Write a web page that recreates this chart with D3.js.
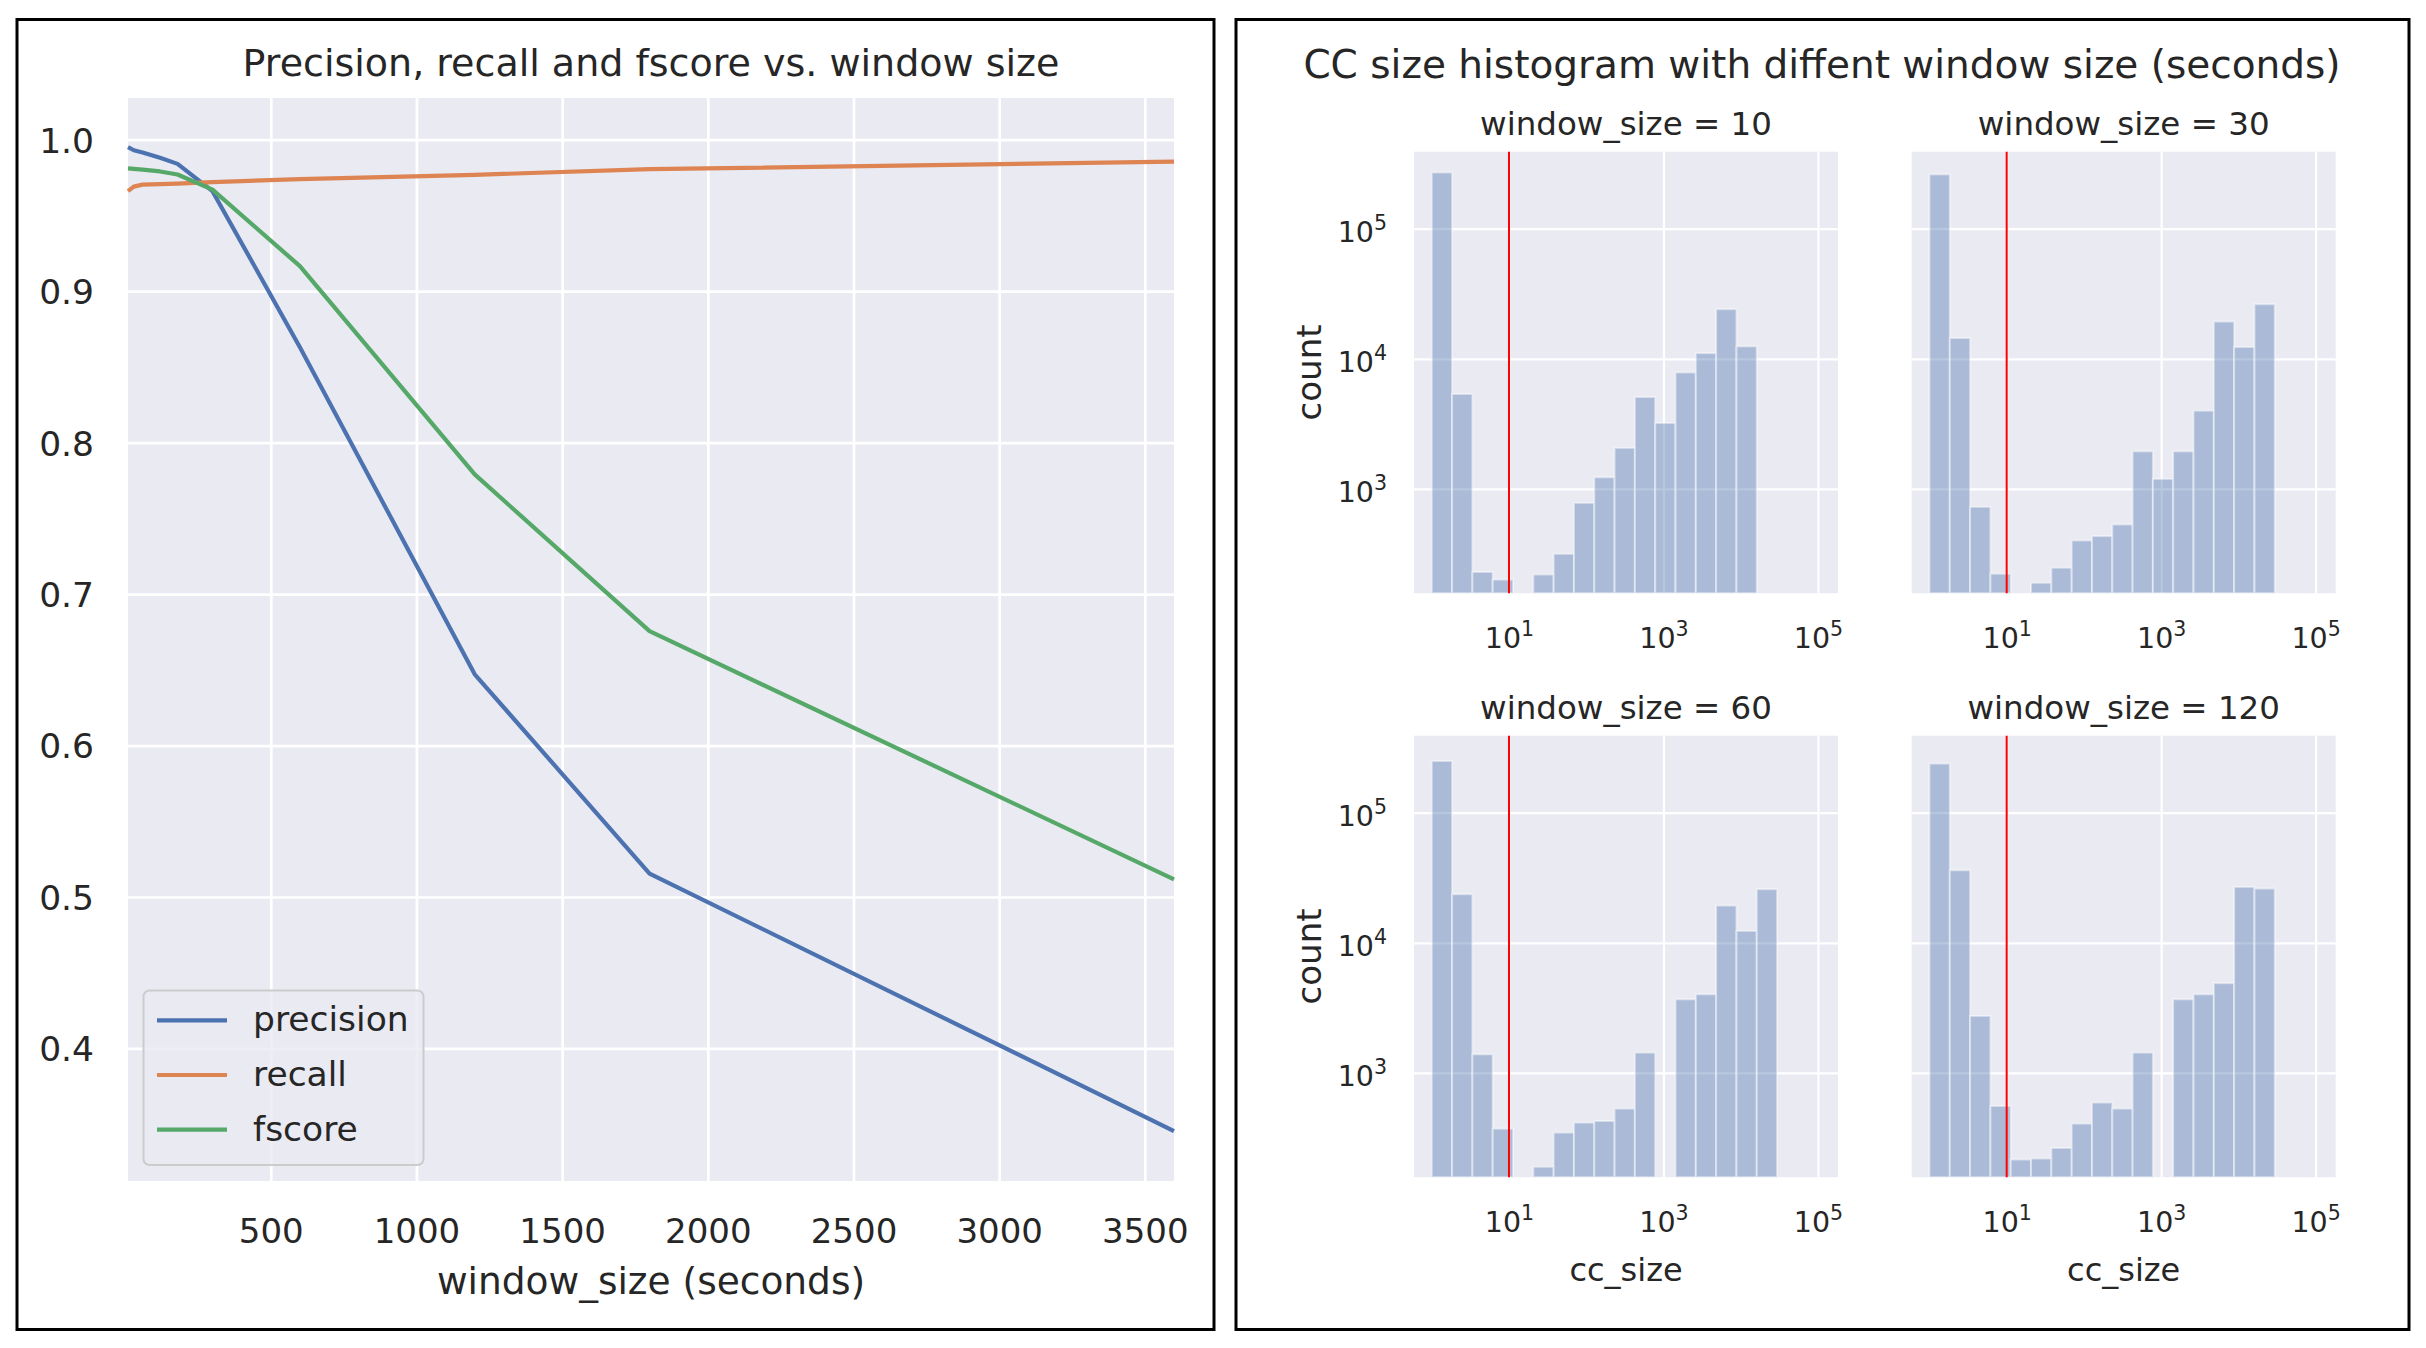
<!DOCTYPE html>
<html><head><meta charset="utf-8">
<script src="https://cdn.jsdelivr.net/npm/d3@7"></script>
<style>
html,body{margin:0;padding:0;background:#fff;}
svg{display:block;font-family:"DejaVu Sans",sans-serif;}
</style></head>
<body>
<svg id="chart" width="2426" height="1348"></svg>
<script>
// ---------- data: left chart ----------
const windowSizes = [10, 30, 60, 120, 180, 300, 600, 1200, 1800, 3600];
const precision   = [0.995, 0.993, 0.9915, 0.988, 0.984, 0.966, 0.863, 0.647, 0.5155, 0.3455];
const recall      = [0.966, 0.969, 0.9703, 0.9707, 0.971, 0.972, 0.974, 0.9768, 0.9805, 0.9855];
const fscore      = [0.981, 0.9807, 0.9802, 0.979, 0.977, 0.967, 0.9165, 0.779, 0.6755, 0.5117];
const seriesNames = ["precision", "recall", "fscore"];
const xTicks = [500, 1000, 1500, 2000, 2500, 3000, 3500];
const yTicks = [0.4, 0.5, 0.6, 0.7, 0.8, 0.9, 1.0];

// ---------- data: right histograms ----------
const binEdgeExp = [0, 0.263, 0.526, 0.789, 1.052, 1.315, 1.578, 1.841, 2.104, 2.367, 2.63,
                    2.893, 3.156, 3.419, 3.682, 3.945, 4.208, 4.471, 4.734, 4.997, 5.26];
const histWindows = [10, 30, 60, 120];
const counts10  = [270000, 5360, 230, 201, null, 220, 317, 781, 1228, 2065, 5080, 3210, 7850, 11040, 24050, 12450];
const counts30  = [261000, 14420, 728, 223, null, 190, 248, 402, 434, 533, 1944, 1194, 1944, 3990, 19300, 12300, 26240];
const counts60  = [249000, 23600, 1390, 373, null, 190, 348, 415, 427, 532, 1432, null, 3680, 4020, 19300, 12330, 25770];
const counts120 = [238000, 36060, 2740, 557, 216, 220, 265, 408, 592, 532, 1432, null, 3680, 4020, 4890, 26840, 26080];
const histCounts = [counts10, counts30, counts60, counts120];
const thresholdSize = 10;
const histXTickExps = [1, 3, 5];
const histYTickExps = [3, 4, 5];

// ---------- styling ----------
const TXT = "#262626", BG = "#eaeaf2";
const colors = {precision: "#4c72b0", recall: "#dd8452", fscore: "#55a868"};
const svg = d3.select("#chart");

// panel borders
svg.append("rect").attr("x", 17).attr("y", 19.5).attr("width", 1197).attr("height", 1310)
  .attr("fill", "none").attr("stroke", "#000").attr("stroke-width", 3);
svg.append("rect").attr("x", 1236).attr("y", 19.5).attr("width", 1173).attr("height", 1310)
  .attr("fill", "none").attr("stroke", "#000").attr("stroke-width", 3);

// ================= LEFT CHART =================
const L = {left: 128, right: 1174, top: 98, bottom: 1181};
const x = d3.scaleLinear().domain(d3.extent(windowSizes)).range([L.left, L.right]);
const y = d3.scaleLinear().domain([0.3125, 1.0275]).range([L.bottom, L.top]);

const gL = svg.append("g");
gL.append("rect").attr("x", L.left).attr("y", L.top).attr("width", L.right - L.left)
  .attr("height", L.bottom - L.top).attr("fill", BG);

// grid
const gxGrid = gL.append("g").attr("transform", `translate(0,${L.bottom})`)
  .call(d3.axisBottom(x).tickValues(xTicks).tickSize(-(L.bottom - L.top)).tickFormat(""));
const gyGrid = gL.append("g").attr("transform", `translate(${L.left},0)`)
  .call(d3.axisLeft(y).tickValues(yTicks).tickSize(-(L.right - L.left)).tickFormat(""));
[gxGrid, gyGrid].forEach(g => {
  g.select(".domain").remove();
  g.selectAll("line").attr("stroke", "#fff").attr("stroke-width", 2.7);
});

// tick labels
const gxAx = gL.append("g").attr("transform", `translate(0,${L.bottom})`)
  .call(d3.axisBottom(x).tickValues(xTicks).tickSize(0).tickFormat(d3.format("d")));
gxAx.select(".domain").remove();
gxAx.selectAll("text").attr("y", 62).attr("dy", null).attr("fill", TXT)
  .attr("font-size", 34).attr("font-family", "DejaVu Sans");
const gyAx = gL.append("g").attr("transform", `translate(${L.left},0)`)
  .call(d3.axisLeft(y).tickValues(yTicks).tickSize(0).tickFormat(d3.format(".1f")));
gyAx.select(".domain").remove();
gyAx.selectAll("text").attr("x", -34).attr("dy", "0.36em").attr("fill", TXT)
  .attr("font-size", 34.5).attr("font-family", "DejaVu Sans");

// lines
const seriesData = {precision, recall, fscore};
const line = d3.line().x((d, i) => x(windowSizes[i])).y(d => y(d));
seriesNames.forEach(name => {
  gL.append("path").datum(seriesData[name]).attr("d", line)
    .attr("fill", "none").attr("stroke", colors[name]).attr("stroke-width", 4.2)
    .attr("stroke-linejoin", "round").attr("stroke-linecap", "butt");
});

// titles
gL.append("text").attr("x", (L.left + L.right) / 2).attr("y", 75.5).attr("text-anchor", "middle")
  .attr("font-size", 38).attr("fill", TXT).text("Precision, recall and fscore vs. window size");
gL.append("text").attr("x", (L.left + L.right) / 2).attr("y", 1294).attr("text-anchor", "middle")
  .attr("font-size", 37.5).attr("fill", TXT).text("window_size (seconds)");

// legend
const leg = gL.append("g");
leg.append("rect").attr("x", 143.5).attr("y", 990.5).attr("width", 280).attr("height", 174.5)
  .attr("rx", 6).attr("fill", BG).attr("fill-opacity", 0.8).attr("stroke", "#cccccc").attr("stroke-width", 2);
seriesNames.forEach((name, i) => {
  const cy = 1020.4 + i * 54.6;
  leg.append("line").attr("x1", 157).attr("x2", 227).attr("y1", cy).attr("y2", cy)
    .attr("stroke", colors[name]).attr("stroke-width", 4.2);
  leg.append("text").attr("x", 253).attr("y", cy + 11).attr("font-size", 34.5).attr("fill", TXT).text(name);
});

// ================= RIGHT: HISTOGRAMS =================
svg.append("text").attr("x", 1822).attr("y", 78).attr("text-anchor", "middle")
  .attr("font-size", 39).attr("fill", TXT).text("CC size histogram with diffent window size (seconds)");

const PW = 424, PH = 441.5;
const panelPos = [[1414, 151.7], [1911.7, 151.7], [1414, 735.7], [1911.7, 735.7]];
const xs = d3.scaleLog().domain([Math.pow(10, -0.23), Math.pow(10, 5.26)]).range([0, PW]);
const ys = d3.scaleLog().domain([Math.pow(10, 2.199), Math.pow(10, 5.591)]).range([PH, 0]);

function supLabel(sel, exp, size) {
  sel.text(null);
  sel.append("tspan").text("10");
  sel.append("tspan").attr("font-size", size * 0.72).attr("dy", -size * 0.42).text(String(exp));
}

histWindows.forEach((ws, p) => {
  const [px, py] = panelPos[p];
  const col = p % 2, row = Math.floor(p / 2);
  const g = svg.append("g").attr("transform", `translate(${px},${py})`);
  g.append("rect").attr("width", PW).attr("height", PH).attr("fill", BG);

  const xv = histXTickExps.map(e => Math.pow(10, e));
  const yv = histYTickExps.map(e => Math.pow(10, e));
  const gx = g.append("g").attr("transform", `translate(0,${PH})`)
    .call(d3.axisBottom(xs).tickValues(xv).tickSize(-PH).tickFormat(""));
  const gy = g.append("g").call(d3.axisLeft(ys).tickValues(yv).tickSize(-PW).tickFormat(""));
  [gx, gy].forEach(a => {
    a.select(".domain").remove();
    a.selectAll("line").attr("stroke", "#fff").attr("stroke-width", 2.2);
  });

  // bars
  const bins = histCounts[p].map((c, k) => ({c, k})).filter(d => d.c != null);
  g.selectAll("rect.bar").data(bins).enter().append("rect").attr("class", "bar")
    .attr("x", d => xs(Math.pow(10, binEdgeExp[d.k])))
    .attr("width", d => xs(Math.pow(10, binEdgeExp[d.k + 1])) - xs(Math.pow(10, binEdgeExp[d.k])))
    .attr("y", d => ys(d.c))
    .attr("height", d => PH - ys(d.c))
    .attr("fill", "#4c72b0").attr("fill-opacity", 0.4)
    .attr("stroke", "#ffffff").attr("stroke-opacity", 0.45).attr("stroke-width", 2);

  // threshold line
  g.append("line").attr("x1", xs(thresholdSize)).attr("x2", xs(thresholdSize))
    .attr("y1", 0).attr("y2", PH).attr("stroke", "#ff0000").attr("stroke-width", 2);

  // x tick labels
  const gxl = g.append("g").attr("transform", `translate(0,${PH})`)
    .call(d3.axisBottom(xs).tickValues(xv).tickSize(0).tickFormat(""));
  gxl.select(".domain").remove();
  gxl.selectAll("text").attr("y", 55).attr("dy", null).attr("fill", TXT)
    .attr("font-size", 28.5).attr("font-family", "DejaVu Sans")
    .each(function(d) { supLabel(d3.select(this), Math.round(Math.log10(d)), 28.5); });

  // y tick labels on left column
  if (col === 0) {
    const gyl = g.append("g").call(d3.axisLeft(ys).tickValues(yv).tickSize(0).tickFormat(""));
    gyl.select(".domain").remove();
    gyl.selectAll("text").attr("x", -27).attr("dy", 13).attr("fill", TXT)
      .attr("font-size", 28.5).attr("font-family", "DejaVu Sans")
      .each(function(d) { supLabel(d3.select(this), Math.round(Math.log10(d)), 28.5); });
    g.append("text").attr("transform", `translate(-93,${PH / 2}) rotate(-90)`)
      .attr("text-anchor", "middle").attr("font-size", 34).attr("fill", TXT).text("count");
  }
  if (row === 1) {
    g.append("text").attr("x", PW / 2).attr("y", PH + 104).attr("text-anchor", "middle")
      .attr("font-size", 32).attr("fill", TXT).text("cc_size");
  }
  g.append("text").attr("x", PW / 2).attr("y", -17).attr("text-anchor", "middle")
    .attr("font-size", 32.5).attr("fill", TXT).text(`window_size = ${ws}`);
});
</script>
</body></html>
